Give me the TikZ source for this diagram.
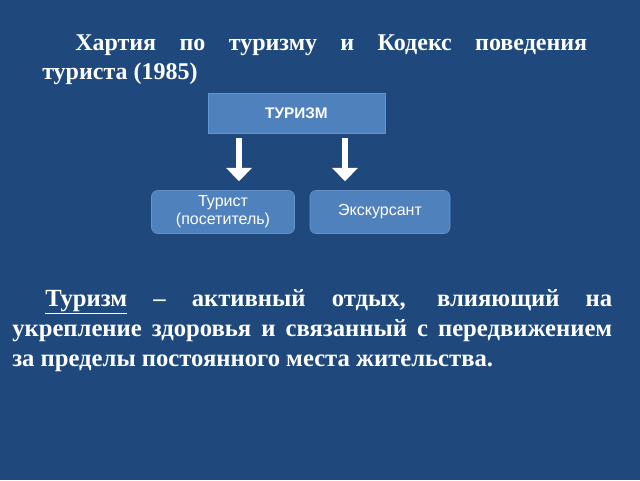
\documentclass[tikz,border=0pt]{standalone}
\usepackage{fontspec}
\setmainfont{Liberation Serif}
\setsansfont{Liberation Sans}
\usetikzlibrary{arrows.meta}
\definecolor{slidebg}{RGB}{31,73,125}
\definecolor{boxfill}{RGB}{79,129,189}
\definecolor{boxline}{RGB}{104,148,204}
\begin{document}
\begin{tikzpicture}[x=0.75pt, y=-0.75pt,
    para/.style={anchor=north west, inner sep=0pt, text=white, align=justify},
    headbox/.style={draw=boxline, fill=boxfill, text=white, font=\sffamily\bfseries\fontsize{11.5}{13}\selectfont,
        minimum width=132.75pt, minimum height=30pt, inner sep=0pt},
    kindbox/.style={draw=boxline, fill=boxfill, text=white, rounded corners=4.5pt, align=center,
        font=\sffamily\fontsize{12}{13.5}\selectfont, minimum height=32.25pt, inner sep=0pt},
    downarrow/.style={draw=white, line width=4.5pt, -{Triangle[width=18.75pt, length=10pt]},
        shorten <=3.75pt, shorten >=6.75pt}]
    % slide background
    \fill[slidebg] (0,0) rectangle (640,480);
    \useasboundingbox (0,0) rectangle (640,480);

    % title
    \node[para, text width=408.75pt, font=\bfseries\fontsize{18}{21.75}\selectfont] (title) at (42,35)
        {\hspace*{24.75pt}Хартия по туризму и Кодекс поведения\linebreak туриста (1985)};

    % scheme
    \node[headbox] (tourism) at (296.5,113) {ТУРИЗМ};
    \node[kindbox, minimum width=107.25pt] (tourist) at (223,212) {Турист\\(посетитель)};
    \node[kindbox, minimum width=105pt] (excursant) at (380,212) {Экскурсант};

    \draw[downarrow] ([xshift=-43.125pt]tourism.south) -- ([xshift=12pt]tourist.north);
    \draw[downarrow] ([xshift=36.375pt]tourism.south) -- ([xshift=-26.25pt]excursant.north);

    % definition
    \node[para, text width=450pt, font=\bfseries\fontsize{18.5}{22.5}\selectfont] (definition) at (12,289)
        {\hspace*{24.75pt}\underline{Туризм} -- активный отдых, влияющий на\linebreak
        укрепление здоровья и связанный с передвижением\linebreak
        за пределы постоянного места жительства.};
\end{tikzpicture}
\end{document}
